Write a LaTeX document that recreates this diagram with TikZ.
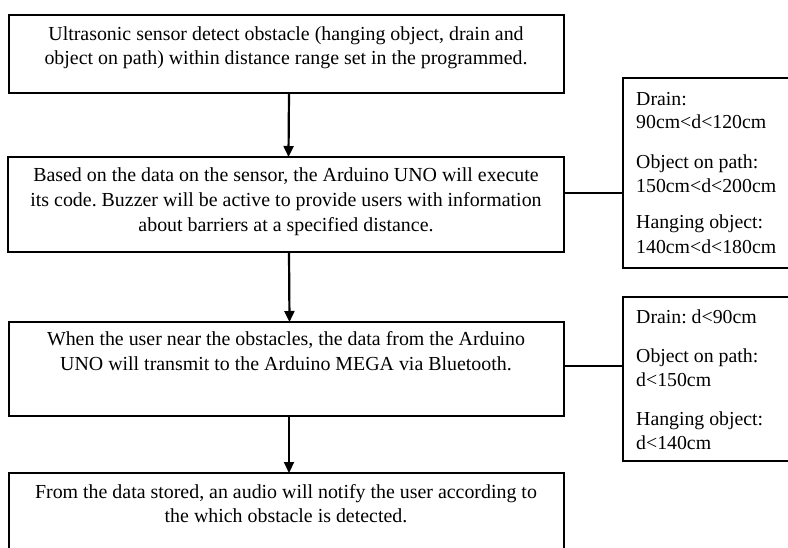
\documentclass[tikz,border=0pt]{standalone}
\usepackage{fontspec}
\setmainfont{Liberation Serif}
\usetikzlibrary{arrows.meta}
\frenchspacing
\begin{document}
\begin{tikzpicture}[x=1pt,y=-1pt,
  box/.style={draw, line width=2.5pt, inner sep=0pt, outer sep=0pt, rectangle},
  txt/.style={anchor=base, inner sep=0pt, font=\fontsize{19.9}{25}\selectfont},
  ltxt/.style={anchor=base west, inner sep=0pt, font=\fontsize{19.8}{25}\selectfont},
  arr/.style={line width=2.2pt, -{Triangle[length=11pt,width=10pt]}},
  link/.style={line width=2.2pt}]
\useasboundingbox (0,0) rectangle (788,547);
\clip (0,0) rectangle (788,547);
% main boxes
\node[box, minimum width=555pt, minimum height=78pt] (b1) at (286.5,54) {};
\node[box, minimum width=556pt, minimum height=95pt] (b2) at (286,204.5) {};
\node[box, minimum width=555pt, minimum height=94pt] (b3) at (286.5,369) {};
\node[box, minimum width=555pt, minimum height=127pt] (b4) at (286.5,536.5) {};
% side boxes
\node[box, minimum width=177pt, minimum height=190pt] (r1) at (711.5,173) {};
\node[box, minimum width=177pt, minimum height=164pt] (r2) at (711.5,379) {};
% texts
\node[txt] (t1a) at (286,40) {Ultrasonic sensor detect obstacle (hanging object, drain and};
\node[txt] (t1b) at (286,64) {object on path) within distance range set in the programmed.};
\node[txt] (t2a) at (286,181) {Based on the data on the sensor, the Arduino UNO will execute};
\node[txt] (t2b) at (286,206) {its code. Buzzer will be active to provide users with information};
\node[txt] (t2c) at (286,231) {about barriers at a specified distance.};
\node[txt] (t3a) at (286,345) {When the user near the obstacles, the data from the Arduino};
\node[txt] (t3b) at (286,370) {UNO will transmit to the Arduino MEGA via Bluetooth.};
\node[txt] (t4a) at (286,498) {From the data stored, an audio will notify the user according to};
\node[txt] (t4b) at (286,522) {the which obstacle is detected.};
\node[ltxt] (s1a) at (636,105) {Drain:};
\node[ltxt] (s1b) at (636,128) {90cm<d<120cm};
\node[ltxt] (s1c) at (636,168) {Object on path:};
\node[ltxt] (s1d) at (636,192) {150cm<d<200cm};
\node[ltxt] (s1e) at (636,228) {Hanging object:};
\node[ltxt] (s1f) at (636,253) {140cm<d<180cm};
\node[ltxt] (s2a) at (636,323) {Drain: d<90cm};
\node[ltxt] (s2b) at (636,362) {Object on path:};
\node[ltxt] (s2c) at (636,386) {d<150cm};
\node[ltxt] (s2d) at (636,425) {Hanging object:};
\node[ltxt] (s2e) at (636,449) {d<140cm};
% arrows
\draw[arr] ([xshift=2.5pt]b1.south) -- ([xshift=2.5pt]b2.north);
\draw[arr] ([xshift=3pt]b2.south) -- ([xshift=3pt]b3.north);
\draw[arr] ([xshift=2.5pt]b3.south) -- ([xshift=2.5pt]b4.north);
% links
\coordinate (c1) at ([yshift=11.5pt]b2.east);
\coordinate (c2) at ([yshift=3pt]b3.east);
\draw[link] (c1) -- (c1 -| r1.west);
\draw[link] (c2) -- (c2 -| r2.west);
\end{tikzpicture}
\end{document}
